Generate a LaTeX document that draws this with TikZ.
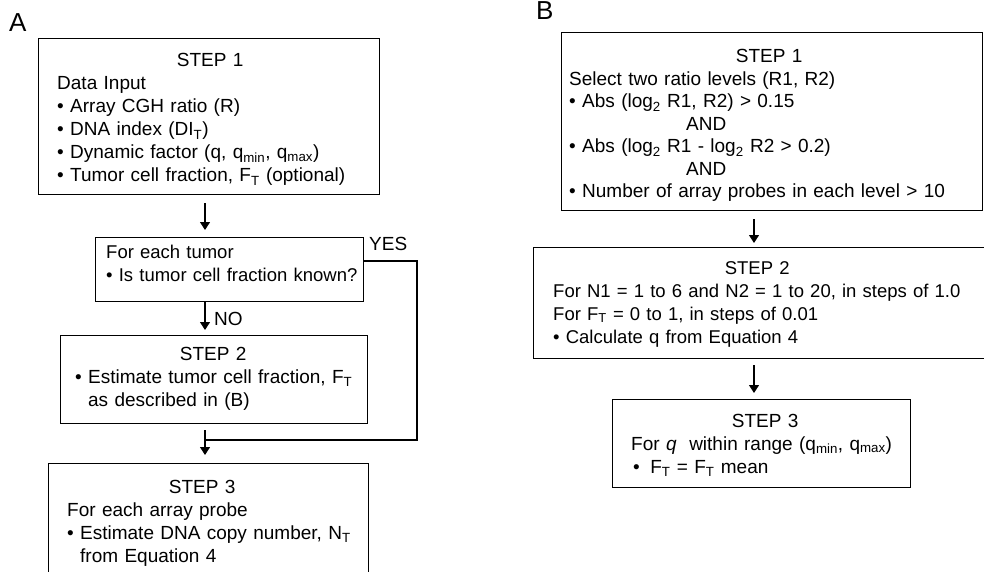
\documentclass[tikz,border=0pt]{standalone}
\usepackage{fontspec}
\setmainfont{Liberation Sans}
\usetikzlibrary{arrows.meta}
\newcommand\hdr[2]{\makebox[#1pt][c]{#2}}
\begin{document}
\begin{tikzpicture}[x=1pt,y=-1pt,
  box/.style={draw, line width=1.4pt, inner sep=0pt, anchor=north west},
  txt/.style={anchor=base west, inner sep=0pt, align=left, text width=480pt, font=\fontsize{19}{23}\selectfont},
  txtb/.style={txt, font=\fontsize{19}{22.5}\selectfont},
  txts/.style={txt, font=\fontsize{18.5}{23}\selectfont},
  lbl/.style={anchor=base west, inner sep=0pt, font=\fontsize{19}{23}\selectfont},
  panel/.style={anchor=base west, inner sep=0pt, font=\fontsize{26}{30}\selectfont},
  conn/.style={line width=1.1pt},
  arr/.style={conn, -{Triangle[width=10pt,length=8pt]}}]
\useasboundingbox (0,0) rectangle (984,572);
\clip (0,0) rectangle (984,572);

% ---------- Panel A ----------
\node[panel] (pa) at (9,32) {A};
\node[box, minimum width=341pt, minimum height=156pt] (a1) at (38,38) {};
\node[txt] (a1t) at (57,67) {\hdr{306}{STEP 1}\\
Data Input\\
• Array CGH ratio (R)\\
• DNA index (DI\textsubscript{T})\\
• Dynamic factor (q, q\textsubscript{min}, q\textsubscript{max})\\
• Tumor cell fraction, F\textsubscript{T} (optional)};

\node[box, minimum width=268pt, minimum height=64pt] (a2) at (95,237) {};
\node[txts] (a2t) at (106,258) {For each tumor\\
• Is tumor cell fraction known?};
\node[lbl] (yes) at (369,250) {YES};

\node[box, minimum width=307pt, minimum height=88pt] (a3) at (60,335) {};
\node[txt] (a3t) at (75,360) {\hdr{276}{STEP 2}\\
• Estimate tumor cell fraction, F\textsubscript{T}\\
\phantom{• }as described in (B)};
\node[lbl] (no) at (214,325) {NO};

\node[box, minimum width=320pt, minimum height=140pt] (a4) at (48,463) {};
\node[txt] (a4t) at (67,493) {\hdr{270}{STEP 3}\\
For each array probe\\
• Estimate DNA copy number, N\textsubscript{T}\\
\phantom{• }from Equation 4};

\coordinate (ax) at (205,0);
\coordinate (ya) at (0,261);
\coordinate (yc) at (417,440);
\draw[arr] ([yshift=-8pt]a1.south -| ax) -- ([yshift=7pt]a2.north -| ax);
\draw[arr] (a2.south -| ax) -- ([yshift=5pt]a3.north -| ax);
\draw[conn] (a2.east |- ya) -| (yc) -- (yc -| ax);
\draw[arr] ([yshift=-6pt]a3.south -| ax) -- ([yshift=8pt]a4.north -| ax);

% ---------- Panel B ----------
\node[panel] (pb) at (536,20) {B};
\node[box, minimum width=421pt, minimum height=178pt] (b1) at (561,32) {};
\node[txtb] (b1t) at (569,63) {\hdr{400}{STEP 1}\\
Select two ratio levels (R1, R2)\\
• Abs (log\textsubscript{2} R1, R2) > 0.15\\
\hspace*{117pt}AND\\
• Abs (log\textsubscript{2} R1 - log\textsubscript{2} R2 > 0.2)\\
\hspace*{117pt}AND\\
• Number of array probes in each level > 10};

\node[box, minimum width=460pt, minimum height=111pt] (b2) at (533,247) {};
\node[txts] (b2t) at (553,274) {\hdr{408}{STEP 2}\\
For N1 = 1 to 6 and N2 = 1 to 20, in steps of 1.0\\
For F\textsubscript{T} = 0 to 1, in steps of 0.01\\
• Calculate q from Equation 4};

\node[box, minimum width=298pt, minimum height=88pt] (b3) at (612,399) {};
\node[txt] (b3t) at (631,427) {\hdr{268}{STEP 3}\\
For \textit{q}\ \ within range (q\textsubscript{min}, q\textsubscript{max})\\
\hspace*{2pt}•\hspace{0.55em}F\textsubscript{T} = F\textsubscript{T} mean};

\coordinate (bx) at (754,0);
\draw[arr] ([yshift=-8pt]b1.south -| bx) -- ([yshift=4pt]b2.north -| bx);
\draw[arr] ([yshift=-6pt]b2.south -| bx) -- ([yshift=6pt]b3.north -| bx);
\end{tikzpicture}
\end{document}
